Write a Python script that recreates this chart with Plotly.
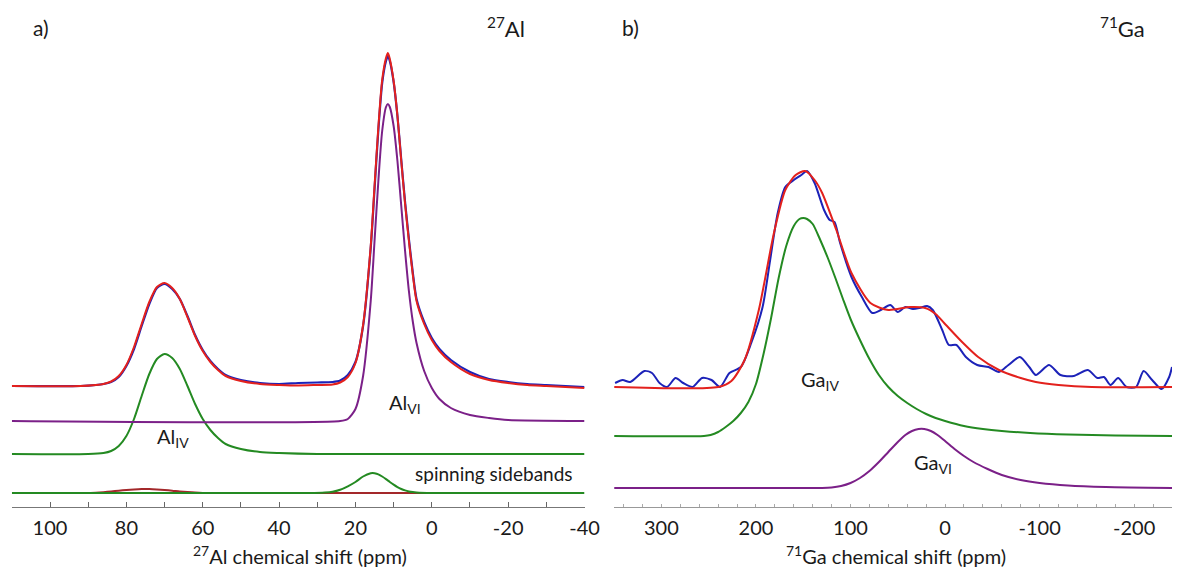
import plotly.graph_objects as go

# ---------------- Panel a: 27Al (ppm, intensity above own baseline) ----------------
al_iv_ppm = [110, 90, 86, 84, 82, 80, 78, 76, 74, 72, 70, 68, 66, 64, 62, 60, 58, 56, 54, 50, 45, 40, 30, -40]
al_iv_int = [0, 0, 1, 3, 8, 18, 35, 58, 80, 95, 100, 96, 85, 68, 50, 35, 24, 16, 10, 5, 2, 1, 0, 0]

al_vi_ppm = [110, 24, 22, 20, 18, 16, 15, 14, 13, 12, 11.5, 11, 10, 9, 8, 7, 6, 5, 4, 2, 0, -2, -5, -10, -15, -20, -40]
al_vi_int = [0, 0, 2, 12, 45, 120, 180, 240, 290, 314, 317, 314, 295, 260, 215, 170, 130, 100, 78, 50, 33, 22, 13, 6, 3, 1, 0]

al_top_ppm = [110, 92, 88, 86, 84, 82, 80, 78, 76, 74, 72, 70, 68, 66, 64, 62, 60, 58, 56, 54, 50, 45, 40, 35, 30,
              26, 24, 22, 20, 18, 16, 15, 14, 13, 12, 11.5, 11, 10, 9, 8, 7, 6, 5, 4, 2, 0, -2, -5, -10, -15, -20, -25, -30, -40]
al_fit_int = [0, 0, 1, 2, 4.5, 10, 21, 39, 62, 84, 99, 103, 98, 87, 69, 50, 35, 24, 16, 10, 5, 2, 1, 0.5, 1,
              1.5, 3.5, 9, 23, 61, 140, 200, 259, 306, 328, 333, 327, 305, 270, 225, 182, 145, 112, 85, 62, 46, 35, 24, 12, 6, 3, 1, 0, -2]
al_exp_int = [0, 0, 1, 2, 4, 9, 20, 37, 60, 82, 98, 102, 97, 87, 70, 51, 36, 25, 17, 11, 6, 3, 2, 3, 3.5,
              4, 5.5, 11, 24, 60, 138, 197, 256, 303, 325, 330, 325, 304, 270, 226, 184, 147, 114, 87, 64, 48, 37, 26, 14, 7, 4, 2, 1, -1]

ssb_green_ppm = [110, 32, 28, 26, 24, 22, 20, 18, 16, 15.5, 15, 14, 13, 12, 11, 10, 9, 8, 7, 6, 5, 4, 0, -40]
ssb_green_int = [0, 0, 0.5, 1.3, 3.3, 6.7, 11, 16.5, 19.8, 20, 19.8, 18.7, 16.5, 13.9, 11, 8.3, 5.9, 4, 2.6, 1.6, 0.9, 0.5, 0, 0]
ssb_red_ppm = [92, 88, 86, 84, 82, 80, 78, 76, 74, 72, 70, 68, 66, 64, 62, 60, 56, 30, 0, -2]
ssb_red_int = [0, 0.3, 0.8, 1.5, 2.3, 3, 3.6, 4, 4, 3.6, 3, 2.3, 1.5, 0.9, 0.4, 0.1, 0, 0, 0, 0]

al_tickvals = [100, 80, 60, 40, 20, 0, -20, -40]
al_ticktext = ["100", "80", "60", "40", "20", "0", "-20", "-40"]

# ---------------- Panel b: 71Ga ----------------
ga_fit_ppm = [350, 240, 226, 212, 197, 181, 169, 158, 148, 138, 130, 115, 99, 79, 60, 37, 21, 10, 1, -18, -35, -57, -80, -96, -120, -155, -240]
ga_fit_int = [0, 0, 6, 27, 77, 154, 197, 212, 216, 207, 194, 157, 114, 84, 77, 80, 79, 73, 64, 45, 30, 17, 9, 5, 2, 0, 0]

ga_exp_ppm = [349, 341, 333, 318, 310, 302, 294, 285, 277, 267, 257, 247, 238, 228, 216, 205, 193, 185, 177, 169, 160,
              152, 146, 138, 128, 122, 117, 111, 99, 88, 77, 68, 58, 50, 42, 34, 27, 19, 13, 3, -4, -12, -22, -34,
              -46, -57, -67, -79, -89, -96, -110, -122, -136, -151, -161, -168, -175, -183, -192, -202, -210, -219, -229, -237, -240]
ga_exp_int = [4, 7, 5, 16, 14, 4, 0, 9, 4, 0, 9, 7, 0, 14, 20, 44, 80, 127, 174, 200, 207,
              212, 216, 204, 177, 167, 165, 144, 110, 90, 74, 77, 82, 75, 80, 78, 79, 81, 77, 57, 42, 42, 30, 22,
              20, 15, 22, 30, 20, 12, 22, 12, 11, 17, 9, 10, 2, 9, 0, 0, 16, 7, -2, 10, 20]

ga_iv_ppm = [350, 255, 248, 240, 232, 224, 216, 208, 200, 192, 184, 176, 168, 160, 154, 150, 146, 140, 132, 124, 116,
             108, 100, 90, 80, 70, 60, 50, 40, 30, 20, 10, 0, -20, -40, -60, -90, -130, -180, -240]
ga_iv_int = [0, 0, 1, 4, 9, 15, 23, 34, 52, 82, 118, 158, 190, 210, 217, 218, 217, 212, 196, 178, 158,
             137, 117, 96, 77, 61, 49, 40, 33, 27, 22, 18, 15, 10, 7, 5, 3, 1.5, 0.5, 0]

ga_vi_ppm = [350, 130, 120, 110, 100, 90, 80, 70, 60, 50, 42, 35, 28, 22, 15, 8, 0, -10, -20, -30, -45, -60, -80,
             -100, -130, -170, -240]
ga_vi_int = [0, 0, 0.5, 2, 5, 10, 17, 26, 36, 46, 53, 57, 59, 59, 57, 53, 47, 39, 32, 26, 19, 13, 8,
             5, 2.5, 1, 0]

ga_tickvals = [300, 200, 100, 0, -100, -200]
ga_ticktext = ["300", "200", "100", "0", "-100", "-200"]

# ---------------- geometry / style ----------------
W, H = 1187, 572
TOP, BOT = 20, 507            # plot-area pixel rows
PH = BOT - TOP                 # y units == pixels


def shift(vals, pix_y):
    b = BOT - pix_y
    return [b + v for v in vals]


BLUE = "#1c22b8"
RED = "#e3211d"
PURPLE = "#7b2088"
GREEN = "#248a22"
DRED = "#a3282a"
FONT = "Lato"
TXT = "#1a1a1a"

fig = go.Figure()


def line(x, y, color, xa, ya, w=2.0):
    fig.add_trace(go.Scatter(x=x, y=y, mode="lines", line=dict(color=color, width=w, shape="spline", smoothing=0.7),
                             xaxis=xa, yaxis=ya, showlegend=False, hoverinfo="skip"))


# panel a
line(ssb_red_ppm, shift(ssb_red_int, 493), DRED, "x", "y")
line(ssb_green_ppm, shift(ssb_green_int, 493), GREEN, "x", "y")
line(al_iv_ppm, shift(al_iv_int, 454), GREEN, "x", "y")
line(al_vi_ppm, shift(al_vi_int, 421), PURPLE, "x", "y")
line(al_top_ppm, shift(al_exp_int, 386), BLUE, "x", "y", 2.2)
line(al_top_ppm, shift(al_fit_int, 386), RED, "x", "y", 2.0)

# panel b
line(ga_vi_ppm, shift(ga_vi_int, 488), PURPLE, "x2", "y2")
line(ga_iv_ppm, shift(ga_iv_int, 436), GREEN, "x2", "y2")
line(ga_exp_ppm, shift(ga_exp_int, 387), BLUE, "x2", "y2", 2.0)
line(ga_fit_ppm, shift(ga_fit_int, 387), RED, "x2", "y2", 2.0)

xcommon = dict(showgrid=False, zeroline=False, showline=True, ticks="inside", tickmode="array",
               tickfont=dict(family=FONT, size=20, color=TXT), ticklabelstandoff=3)

fig.update_layout(
    width=W, height=H, margin=dict(l=0, r=0, t=TOP, b=H - BOT),
    paper_bgcolor="white", plot_bgcolor="white",
    xaxis=dict(domain=[12 / W, 592 / W], range=[110, -40], tickvals=al_tickvals, ticktext=al_ticktext,
               ticklen=5, tickcolor="#666", linecolor="#777", linewidth=1, anchor="y",
               minor=dict(dtick=10, tick0=0, ticks="inside", ticklen=5, tickcolor="#666"), **xcommon),
    yaxis=dict(domain=[0, 1], range=[0, PH], visible=False, fixedrange=True),
    xaxis2=dict(domain=[622 / W, 1.0], range=[350, -240], tickvals=ga_tickvals, ticktext=ga_ticktext,
                ticklen=3, tickcolor="#aaa", linecolor="#999", linewidth=1, anchor="y2",
                minor=dict(dtick=20, tick0=0, ticks="inside", ticklen=3, tickcolor="#aaa"), **xcommon),
    yaxis2=dict(domain=[0, 1], range=[0, PH], visible=False, fixedrange=True, anchor="x2"),
)


def px_ann(text, x, y, size=20):
    fig.add_annotation(text=text, xref="paper", yref="paper", x=x / W, y=(BOT - y) / PH,
                       xanchor="center", yanchor="middle", showarrow=False,
                       font=dict(family=FONT, size=size, color=TXT))


px_ann("a)", 42, 27, 21)
px_ann("<sup>27</sup>Al", 512, 27, 22)
px_ann("b)", 639, 27, 21)
px_ann("<sup>71</sup>Ga", 1137, 27, 22)
px_ann("Al<sub>IV</sub>", 175, 437, 20)
px_ann("Al<sub>VI</sub>", 410, 403, 20)
px_ann("spinning sidebands", 500, 474, 19)
px_ann("Ga<sub>IV</sub>", 830, 380, 20)
px_ann("Ga<sub>VI</sub>", 945, 463, 20)
px_ann("<sup>27</sup>Al chemical shift (ppm)", 304, 555, 20)
px_ann("<sup>71</sup>Ga chemical shift (ppm)", 907, 555, 20)

fig.write_html("out.html")
